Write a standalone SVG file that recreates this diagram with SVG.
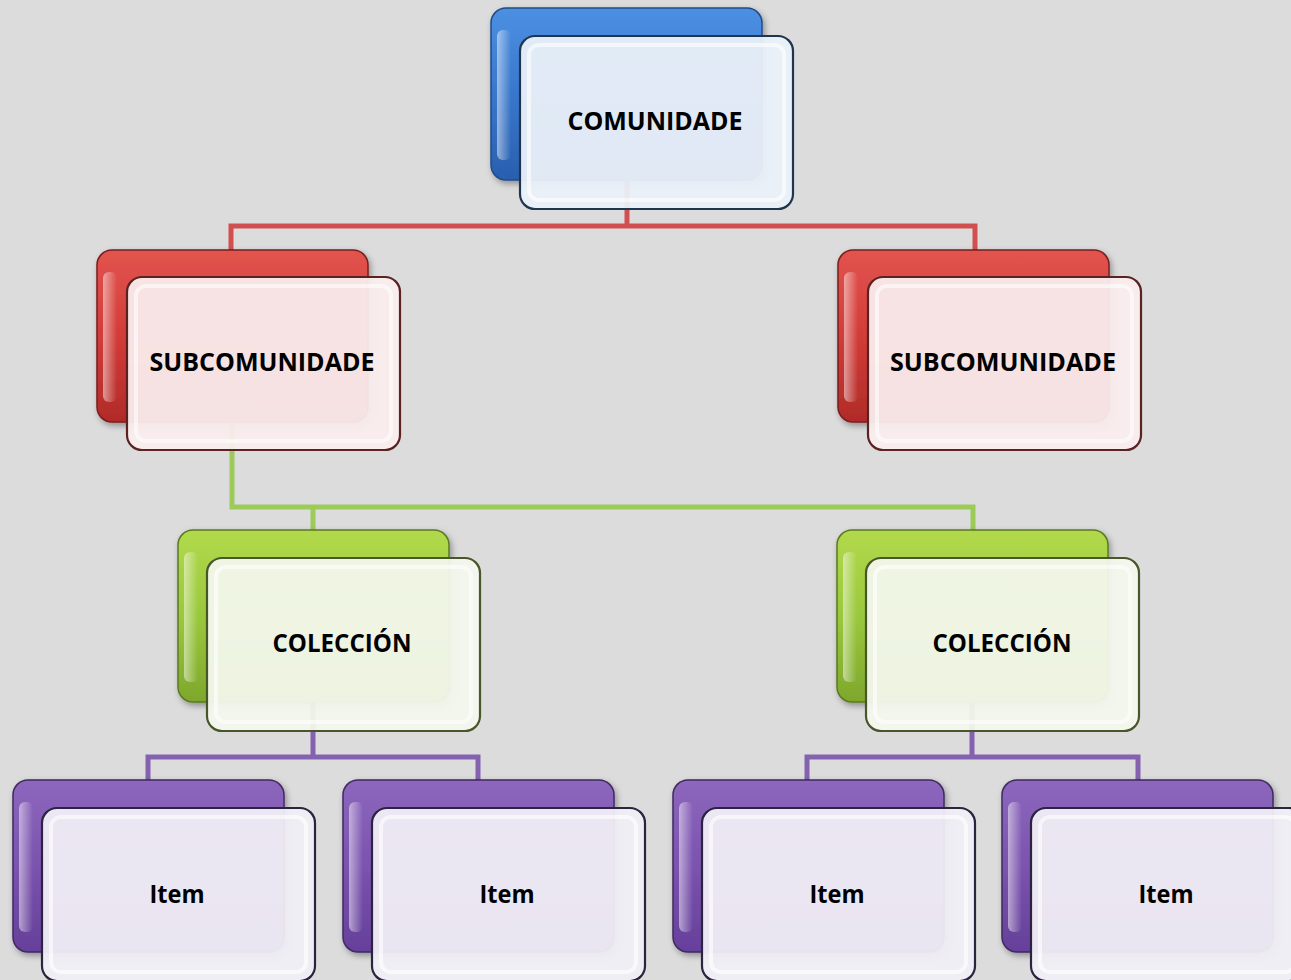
<svg xmlns="http://www.w3.org/2000/svg" width="1291" height="980" viewBox="0 0 1291 980">
<defs>
<linearGradient id="gBlue" x1="0" y1="0" x2="0" y2="1"><stop offset="0" stop-color="#4d90e2"/><stop offset="0.5" stop-color="#3877cc"/><stop offset="1" stop-color="#2a5fae"/></linearGradient>
<linearGradient id="gRed" x1="0" y1="0" x2="0" y2="1"><stop offset="0" stop-color="#e2544e"/><stop offset="0.5" stop-color="#d23c38"/><stop offset="1" stop-color="#b02b28"/></linearGradient>
<linearGradient id="gGreen" x1="0" y1="0" x2="0" y2="1"><stop offset="0" stop-color="#b2d94c"/><stop offset="0.5" stop-color="#9ac83c"/><stop offset="1" stop-color="#7ea72c"/></linearGradient>
<linearGradient id="gPurple" x1="0" y1="0" x2="0" y2="1"><stop offset="0" stop-color="#8d67bd"/><stop offset="0.5" stop-color="#7b53ae"/><stop offset="1" stop-color="#65409a"/></linearGradient>
<linearGradient id="hl" x1="0" y1="0" x2="1" y2="0"><stop offset="0" stop-color="#ffffff" stop-opacity="0.5"/><stop offset="1" stop-color="#ffffff" stop-opacity="0"/></linearGradient>
<filter id="sh" x="-10%" y="-10%" width="130%" height="130%"><feDropShadow dx="2" dy="3" stdDeviation="3" flood-color="#000" flood-opacity="0.35"/></filter>
<style>
.back{filter:url(#sh);stroke-width:1.5}
.bB{fill:url(#gBlue);stroke:#1f4c88}
.bR{fill:url(#gRed);stroke:#7a1e1e}
.bG{fill:url(#gGreen);stroke:#5a7a20}
.bP{fill:url(#gPurple);stroke:#3f2a60}
.hl{fill:url(#hl)}
.front{stroke-width:2.2;fill-opacity:0.95}
.fB{fill:#eaf0f8;stroke:#1f3550}
.fR{fill:#f9ecec;stroke:#5b2222}
.fG{fill:#f3f7ec;stroke:#48572a}
.fP{fill:#f0eef5;stroke:#2c2340}
.inner{fill:none;stroke:#ffffff;stroke-width:4;stroke-opacity:0.6}
.lbl{font-family:"Open Sans","Liberation Sans",sans-serif;font-weight:bold;font-size:25px;fill:#000;text-anchor:middle}
.cR{fill:none;stroke:#d24f4f;stroke-width:5}
.cG{fill:none;stroke:#9ccb5a;stroke-width:5}
.cP{fill:none;stroke:#8462b0;stroke-width:5}
</style>
</defs>
<rect width="1291" height="980" fill="#dcdcdc"/>
<g id="connectors">
<path class="cR" d="M627,180 V226 M231,252 V226 H975 V252"/>
<path class="cG" d="M232,422 V507 H973 V530 M313,507 V530"/>
<path class="cP" d="M313,702 V757 M148,780 V757 H478 V780"/>
<path class="cP" d="M972,703 V757 M807,780 V757 H1138 V780"/>
</g>
<g id="comunidade">
<rect class="back bB" x="491" y="8" width="271" height="172" rx="15"/>
<rect class="hl" x="497" y="30" width="14" height="130" rx="6"/>
<rect class="front fB" x="520" y="36" width="273" height="173" rx="15"/>
<rect class="inner" x="529" y="45" width="255" height="155" rx="10"/>
<text class="lbl" x="655" y="130" textLength="175" lengthAdjust="spacingAndGlyphs">COMUNIDADE</text>
</g>
<g id="sub1">
<rect class="back bR" x="97" y="250" width="271" height="172" rx="15"/>
<rect class="hl" x="103" y="272" width="14" height="130" rx="6"/>
<rect class="front fR" x="127" y="277" width="273" height="173" rx="15"/>
<rect class="inner" x="136" y="286" width="255" height="155" rx="10"/>
<text class="lbl" x="262" y="371" textLength="225" lengthAdjust="spacingAndGlyphs">SUBCOMUNIDADE</text>
</g>
<g id="sub2">
<rect class="back bR" x="838" y="250" width="271" height="172" rx="15"/>
<rect class="hl" x="844" y="272" width="14" height="130" rx="6"/>
<rect class="front fR" x="868" y="277" width="273" height="173" rx="15"/>
<rect class="inner" x="877" y="286" width="255" height="155" rx="10"/>
<text class="lbl" x="1003" y="371" textLength="226" lengthAdjust="spacingAndGlyphs">SUBCOMUNIDADE</text>
</g>
<g id="col1">
<rect class="back bG" x="178" y="530" width="271" height="172" rx="15"/>
<rect class="hl" x="184" y="552" width="14" height="130" rx="6"/>
<rect class="front fG" x="207" y="558" width="273" height="173" rx="15"/>
<rect class="inner" x="216" y="567" width="255" height="155" rx="10"/>
<text class="lbl" x="342" y="652" textLength="139" lengthAdjust="spacingAndGlyphs">COLECCIÓN</text>
</g>
<g id="col2">
<rect class="back bG" x="837" y="530" width="271" height="172" rx="15"/>
<rect class="hl" x="843" y="552" width="14" height="130" rx="6"/>
<rect class="front fG" x="866" y="558" width="273" height="173" rx="15"/>
<rect class="inner" x="875" y="567" width="255" height="155" rx="10"/>
<text class="lbl" x="1002" y="652" textLength="139" lengthAdjust="spacingAndGlyphs">COLECCIÓN</text>
</g>
<g id="item1">
<rect class="back bP" x="13" y="780" width="271" height="172" rx="15"/>
<rect class="hl" x="19" y="802" width="14" height="130" rx="6"/>
<rect class="front fP" x="42" y="808" width="273" height="173" rx="15"/>
<rect class="inner" x="51" y="817" width="255" height="155" rx="10"/>
<text class="lbl" x="177" y="903" textLength="55" lengthAdjust="spacingAndGlyphs">Item</text>
</g>
<g id="item2">
<rect class="back bP" x="343" y="780" width="271" height="172" rx="15"/>
<rect class="hl" x="349" y="802" width="14" height="130" rx="6"/>
<rect class="front fP" x="372" y="808" width="273" height="173" rx="15"/>
<rect class="inner" x="381" y="817" width="255" height="155" rx="10"/>
<text class="lbl" x="507" y="903" textLength="55" lengthAdjust="spacingAndGlyphs">Item</text>
</g>
<g id="item3">
<rect class="back bP" x="673" y="780" width="271" height="172" rx="15"/>
<rect class="hl" x="679" y="802" width="14" height="130" rx="6"/>
<rect class="front fP" x="702" y="808" width="273" height="173" rx="15"/>
<rect class="inner" x="711" y="817" width="255" height="155" rx="10"/>
<text class="lbl" x="837" y="903" textLength="55" lengthAdjust="spacingAndGlyphs">Item</text>
</g>
<g id="item4">
<rect class="back bP" x="1002" y="780" width="271" height="172" rx="15"/>
<rect class="hl" x="1008" y="802" width="14" height="130" rx="6"/>
<rect class="front fP" x="1031" y="808" width="273" height="173" rx="15"/>
<rect class="inner" x="1040" y="817" width="255" height="155" rx="10"/>
<text class="lbl" x="1166" y="903" textLength="55" lengthAdjust="spacingAndGlyphs">Item</text>
</g>
</svg>
